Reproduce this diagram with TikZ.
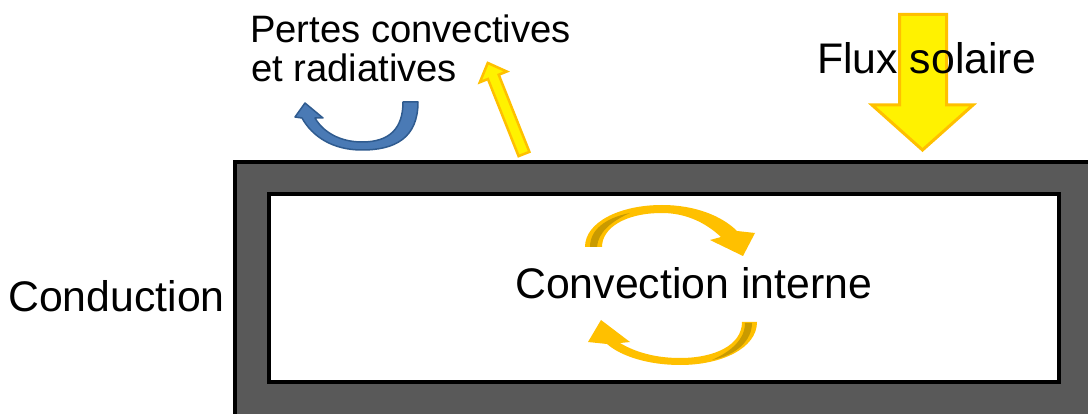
\documentclass[tikz,border=0pt]{standalone}
\usepackage{fontspec}
\setmainfont{Liberation Sans}
\definecolor{gold}{HTML}{FFC000}
\definecolor{darkgold}{HTML}{C99A00}
\definecolor{wallgray}{HTML}{595959}
\definecolor{bluefill}{HTML}{4A7AB5}
\definecolor{blueedge}{HTML}{2F5B8F}
\begin{document}
\begin{tikzpicture}[x=1pt,y=-1pt,
  biglbl/.style={inner sep=0pt, anchor=base west, font=\fontsize{42.8}{50}\selectfont},
  smalllbl/.style={inner sep=0pt, anchor=base west, font=\fontsize{38.2}{46}\selectfont},
  yelarrow/.style={fill=yellow, draw=gold, line join=miter},
  goldarrow/.style={fill=gold, draw=none},
  shade3d/.style={fill=darkgold, draw=none},
  bluearrow/.style={fill=bluefill, draw=blueedge, line width=1.5pt, line join=round}]
\useasboundingbox (0,0) rectangle (1088,414);
% wall
\path[fill=wallgray, draw=black, line width=4pt] (234.7,162) rectangle (1100,430);
\path[fill=white, draw=black, line width=4pt] (268.7,194) rectangle (1058.7,382);
% solar flux arrow
\path[yelarrow, line width=3pt] (899.5,14.5) -- (946.5,14.5) -- (946.5,105) -- (973,105)
  -- (922.5,150) -- (872,105) -- (899.5,105) -- cycle;
% radiative loss arrow
\begin{scope}[shift={(524,154)}, rotate=111.7]
\path[yelarrow, line width=2.5pt] (0,-5.8) -- (83,-5.8) -- (83,-14.5) -- (98,0)
  -- (83,14.5) -- (83,5.8) -- (0,5.8) -- cycle;
\end{scope}
% convective loss arrow (blue)
\path[bluearrow] (418,102) .. controls (418,138) and (395,150) .. (362,150)
  .. controls (332,150) and (312,136) .. (302,118) -- (295,117) -- (305,103)
  -- (323,118) -- (315,118) .. controls (323,132) and (340,142) .. (362,142)
  .. controls (390,142) and (403,128) .. (403,102) -- cycle;
% internal convection arrows
\path[goldarrow] (585,247) .. controls (585,222) and (620,205) .. (662,205)
  .. controls (695,205) and (722,216) .. (737,231) -- (755,233) -- (743,256)
  -- (710,240) -- (721,237) .. controls (705,222) and (685,213) .. (662,213)
  .. controls (625,213) and (602,228) .. (602,247) -- cycle;
\path[shade3d] (590,247) .. controls (590,230) and (605,218) .. (630,213)
  .. controls (612,221) and (598,232) .. (597,247) -- cycle;
\path[goldarrow] (742,322) -- (757,322) .. controls (757,348) and (722,365) .. (680,365)
  .. controls (650,365) and (622,357) .. (607,344) -- (588,342) -- (601,320)
  -- (630,342) -- (620,343) .. controls (635,352) and (655,358) .. (680,358)
  .. controls (715,358) and (742,345) .. (742,322) -- cycle;
\path[shade3d] (745,323) -- (752,323) .. controls (752,340) and (737,355) .. (712,360)
  .. controls (730,352) and (745,340) .. (745,323) -- cycle;
% labels
\node[smalllbl] (pertes1) at (250,43) {Pertes convectives};
\node[smalllbl] (pertes2) at (251,82) {et radiatives};
\node[biglbl] (flux) at (817,74) {Flux solaire};
\node[biglbl] (cond) at (8,312) {Conduction};
\node[biglbl] (convint) at (515,299) {Convection interne};
\end{tikzpicture}
\end{document}
